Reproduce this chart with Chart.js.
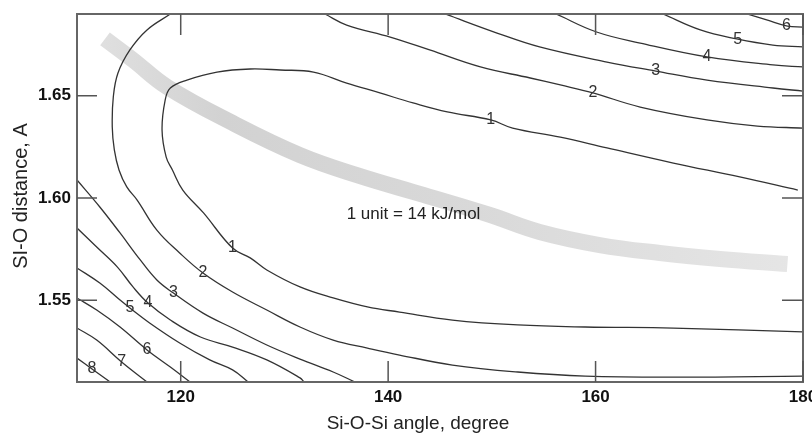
<!DOCTYPE html>
<html>
<head>
<meta charset="utf-8">
<title>Si-O-Si energy contours</title>
<script src="https://cdn.jsdelivr.net/npm/chart.js@4.4.1/dist/chart.umd.min.js"></script>
<style>
    html, body { margin: 0; padding: 0; background: #fff; }
    #wrap { width: 812px; height: 438px; }
</style>
</head>
<body>
<div id="wrap"><canvas id="contourChart" width="812" height="438"></canvas></div>
<script>
// Axis ranges and tick values
const xRange = [110, 180];
const yRange = [1.51, 1.69];
const xTicks = [120, 140, 160, 180];
const yTicks = [1.55, 1.60, 1.65];

// Contour lines as [Si-O-Si angle, Si-O distance] pairs
const level1 = [
    [179.5, 1.6039], [173.9, 1.6103], [167.5, 1.6171], [161.1, 1.6245], [156.6, 1.6298],
    [152.0, 1.6342], [149.9, 1.6382], [145.7, 1.6421], [142.4, 1.6465], [139.2, 1.6514],
    [136.0, 1.6562], [132.8, 1.6616], [129.6, 1.6626], [126.7, 1.6631], [123.5, 1.6616],
    [120.6, 1.6577], [119.0, 1.6538], [118.5, 1.6479], [118.2, 1.6333], [118.6, 1.6200],
    [119.2, 1.6137], [120.2, 1.6039], [122.2, 1.5927], [125.0, 1.5755], [126.7, 1.5707],
    [128.3, 1.5648], [131.5, 1.5565], [134.7, 1.5511], [138.0, 1.5467], [141.1, 1.5442],
    [146.2, 1.5403], [152.5, 1.5379], [159.0, 1.5369], [167.5, 1.5364], [180.0, 1.5345]
];
const level2Low = [
    [119.0, 1.6900], [116.75, 1.6822], [115.1, 1.6724], [113.95, 1.6611], [113.5, 1.6494],
    [113.4, 1.6347], [113.6, 1.6235], [114.05, 1.6137], [114.8, 1.6054], [115.8, 1.5990],
    [117.7, 1.5843], [119.9, 1.5731], [122.15, 1.5633], [125.0, 1.5540], [128.3, 1.5452],
    [131.5, 1.5369], [134.7, 1.5305], [138.0, 1.5266], [141.1, 1.5232], [146.2, 1.5183],
    [152.5, 1.5149], [159.0, 1.5129], [168.1, 1.5124], [180.0, 1.5129]
];
const level2High = [
    [133.9, 1.6900], [136.0, 1.6846], [140.2, 1.6787], [144.0, 1.6724], [148.9, 1.6641],
    [153.7, 1.6587], [156.6, 1.6553], [159.75, 1.6514], [164.3, 1.6445], [170.75, 1.6382],
    [175.6, 1.6352], [180.0, 1.6342]
];
const level3Low = [
    [110.0, 1.6088], [112.2, 1.5956], [114.15, 1.5829], [116.1, 1.5697], [117.7, 1.5599],
    [119.3, 1.5535], [122.15, 1.5437], [125.0, 1.5364], [128.3, 1.5281], [131.5, 1.5212],
    [134.7, 1.5149], [136.8, 1.5100]
];
const level3High = [
    [145.5, 1.6900], [150.5, 1.6807], [154.6, 1.6739], [161.1, 1.6665], [165.8, 1.6621],
    [170.75, 1.6577], [177.1, 1.6538], [180.0, 1.6523]
];
const level4Low = [
    [110.0, 1.5853], [111.9, 1.5760], [113.9, 1.5662], [115.4, 1.5565], [116.85, 1.5486],
    [119.0, 1.5403], [121.9, 1.5320], [125.0, 1.5271], [128.3, 1.5208], [131.5, 1.5120],
    [131.9, 1.5100]
];
const level4High = [
    [156.2, 1.6900], [160.1, 1.6812], [164.3, 1.6758], [170.75, 1.6690], [177.1, 1.6651],
    [180.0, 1.6641]
];
const level5Low = [
    [110.0, 1.5658], [112.2, 1.5584], [114.15, 1.5501], [115.1, 1.5462], [117.0, 1.5389],
    [119.9, 1.5291], [122.8, 1.5208], [125.0, 1.5159], [126.5, 1.5100]
];
const level5High = [
    [166.5, 1.6900], [170.1, 1.6822], [173.6, 1.6778], [177.1, 1.6748], [180.0, 1.6739]
];
const level6Low = [
    [110.0, 1.5511], [111.9, 1.5452], [114.15, 1.5369], [116.75, 1.5257], [119.0, 1.5173],
    [120.9, 1.5100]
];
const level6High = [[174.6, 1.6900], [176.5, 1.6871], [178.5, 1.6841], [180.0, 1.6836]];
const level7 = [[110.0, 1.5364], [111.9, 1.5305], [114.3, 1.5198], [116.75, 1.5100]];
const level8 = [[110.0, 1.5217], [111.45, 1.5164], [113.2, 1.5100]];

// Grey band along the energy valley
const valley = [
    [112.7, 1.6778], [115.4, 1.6675], [118.7, 1.6543], [125.0, 1.6367], [131.5, 1.6210],
    [137.0, 1.6112], [143.4, 1.6015], [149.8, 1.5917], [154.6, 1.5834], [160.4, 1.5770],
    [166.2, 1.5731], [172.0, 1.5702], [178.5, 1.5677]
];

// Contour level labels
const labelText = ['1', '1', '2', '2', '3', '3', '4', '4', '5', '5', '6', '6', '7', '8'];
const labelAngle = [149.9, 125.0, 122.15, 159.75, 119.3, 165.8, 116.85, 170.75, 115.1, 173.7, 116.75, 178.4, 114.3, 111.45];
const labelDist = [1.6382, 1.5755, 1.5633, 1.6514, 1.5535, 1.6621, 1.5486, 1.6690, 1.5462, 1.6773, 1.5257, 1.6841, 1.5198, 1.5164];

const noteText = '1 unit = 14 kJ/mol';
const noteAt = [136.0, 1.5922];
const xTitle = 'Si-O-Si angle, degree';
const yTitle = 'SI-O distance, A';

const FONT = '"Liberation Sans", Arial, Helvetica, sans-serif';
const contours = [level1, level2Low, level2High, level3Low, level3High, level4Low, level4High,
    level5Low, level5High, level6Low, level6High, level7, level8];

const toPoints = arr => arr.map(([x, y]) => ({ x, y }));

/**
 * Light grey gradient for the valley band, darker in its middle part.
 */
function bandColor(chart) {
    const area = chart.chartArea;
    if (!area) return '#d8d8d8';
    const g = chart.ctx.createLinearGradient(area.left, 0, area.right, 0);
    g.addColorStop(0, '#e2e2e2');
    g.addColorStop(0.2, '#d2d2d2');
    g.addColorStop(0.55, '#d9d9d9');
    g.addColorStop(1, '#e6e6e6');
    return g;
}

// Frame, inward ticks, labels and titles
const decorations = {
    id: 'decorations',
    afterDatasetsDraw(chart) {
        const { ctx, chartArea: a, scales: { x, y } } = chart;
        ctx.save();

        ctx.strokeStyle = '#666';
        ctx.lineWidth = 2;
        ctx.strokeRect(a.left, a.top, a.right - a.left, a.bottom - a.top);

        ctx.strokeStyle = '#555';
        ctx.lineWidth = 1.5;
        ctx.beginPath();
        xTicks.forEach(v => {
            const px = x.getPixelForValue(v);
            ctx.moveTo(px, a.top); ctx.lineTo(px, a.top + 21);
            ctx.moveTo(px, a.bottom); ctx.lineTo(px, a.bottom - 21);
        });
        yTicks.forEach(v => {
            const py = y.getPixelForValue(v);
            ctx.moveTo(a.left, py); ctx.lineTo(a.left + 20, py);
            ctx.moveTo(a.right, py); ctx.lineTo(a.right - 21, py);
        });
        ctx.stroke();

        ctx.fillStyle = '#333';
        ctx.font = '16px ' + FONT;
        ctx.textAlign = 'center';
        ctx.textBaseline = 'middle';
        labelText.forEach((t, i) => {
            ctx.fillText(t, x.getPixelForValue(labelAngle[i]), y.getPixelForValue(labelDist[i]));
        });

        ctx.fillStyle = '#222';
        ctx.font = '17px ' + FONT;
        ctx.textAlign = 'left';
        ctx.fillText(noteText, x.getPixelForValue(noteAt[0]), y.getPixelForValue(noteAt[1]));

        ctx.textAlign = 'center';
        ctx.textBaseline = 'alphabetic';
        ctx.font = '19px ' + FONT;
        ctx.fillText(xTitle, (a.left + a.right) / 2 - 22, chart.height - 9);

        ctx.translate(27, (a.top + a.bottom) / 2 - 2);
        ctx.rotate(-Math.PI / 2);
        ctx.font = '20px ' + FONT;
        ctx.fillText(yTitle, 0, 0);

        ctx.restore();
    }
};

const tickFont = { family: FONT, size: 17, weight: 'bold' };

new Chart(document.getElementById('contourChart'), {
    type: 'scatter',
    data: {
        datasets: [
            ...contours.map(c => ({
                data: toPoints(c),
                showLine: true,
                borderColor: '#333',
                borderWidth: 1.3,
                pointRadius: 0,
                tension: 0.4,
                fill: false
            })),
            {
                data: toPoints(valley),
                showLine: true,
                borderColor: ctx => bandColor(ctx.chart),
                borderWidth: 16,
                borderCapStyle: 'butt',
                pointRadius: 0,
                tension: 0.4,
                fill: false
            }
        ]
    },
    options: {
        responsive: false,
        animation: false,
        layout: { padding: { top: 14, right: 9, left: 0, bottom: 0 } },
        plugins: {
            legend: { display: false },
            tooltip: { enabled: false }
        },
        scales: {
            x: {
                type: 'linear',
                min: xRange[0],
                max: xRange[1],
                grid: { display: false, drawTicks: false },
                border: { display: false },
                ticks: { font: tickFont, color: '#111', padding: 5, maxRotation: 0, autoSkip: false, callback: v => String(v) },
                afterBuildTicks: s => { s.ticks = xTicks.map(value => ({ value })); },
                afterFit: s => { s.height = 56; s.paddingLeft = 0; s.paddingRight = 0; }
            },
            y: {
                type: 'linear',
                min: yRange[0],
                max: yRange[1],
                grid: { display: false, drawTicks: false },
                border: { display: false },
                ticks: { font: tickFont, color: '#111', padding: 6, callback: v => v.toFixed(2) },
                afterBuildTicks: s => { s.ticks = yTicks.map(value => ({ value })); },
                afterFit: s => { s.width = 77; s.paddingTop = 0; s.paddingBottom = 0; }
            }
        }
    },
    plugins: [decorations]
});
</script>
</body>
</html>
